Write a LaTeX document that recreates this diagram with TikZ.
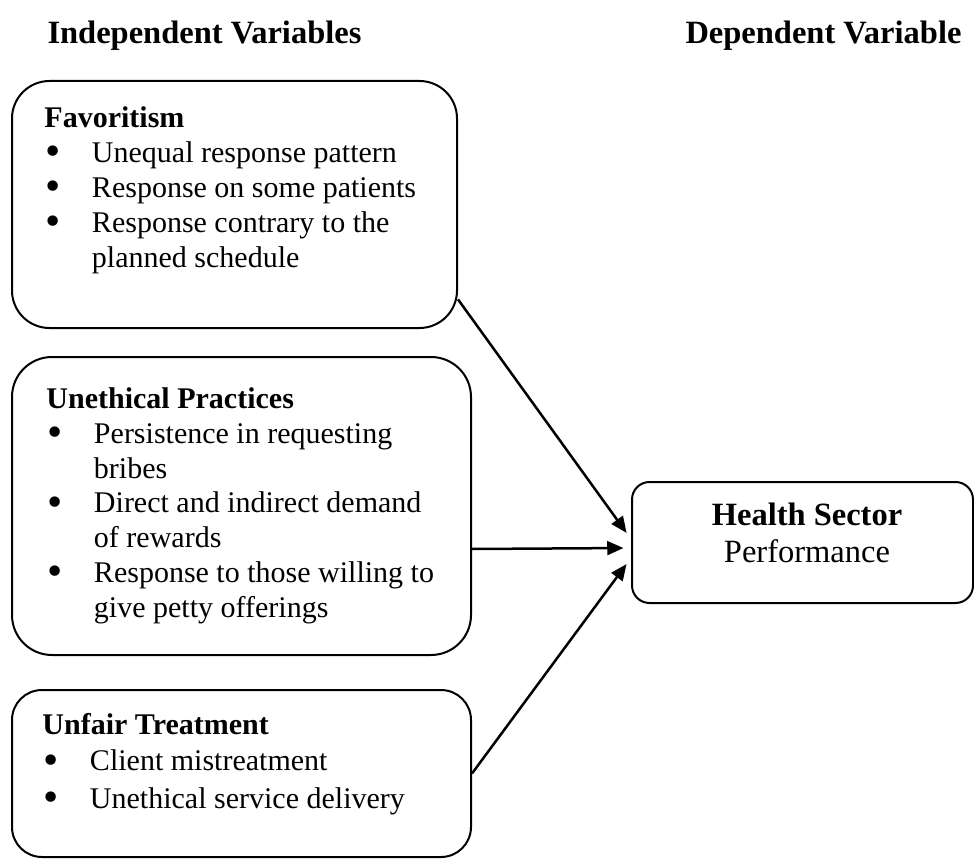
\documentclass[tikz,border=0pt]{standalone}
\usepackage{fontspec}
\usepackage{graphicx}
\setmainfont{Liberation Serif}
\usetikzlibrary{
  arrows.meta,
  positioning,
  fit,
  calc
}
% bullet and the indent for a wrapped item line
\newcommand{\itm}{\makebox[19pt][l]{\hspace{0.5pt}%
  \raisebox{-1.3pt}[0pt][0pt]{\scalebox{1.45}{\textbullet}}}}
\newcommand{\cnt}{\makebox[19pt]{}}

\begin{document}
\begin{tikzpicture}[
  x=0.4pt, y=-0.4pt,
  box/.style ={draw,line width=0.8pt,inner sep=0pt},
  txt/.style ={anchor=base west,align=left,inner sep=0pt,
               font=\fontsize{12}{13.9}\selectfont},
  head/.style={anchor=base west,inner sep=0pt,
               font=\fontsize{13}{15}\selectfont\bfseries},
  arr/.style ={-{Triangle[length=6.5pt,width=5.5pt]},line width=1pt,
               shorten >=3pt},
]
\useasboundingbox (0,0) rectangle (974,859);

\node[head] (indep) at (47,44)  {Independent Variables};
\node[head] (dep)   at (685,44) {Dependent Variable};

% the three groups of independent variables
\node[box,rounded corners=15pt,fit={(12,81) (457,328)}]  (fav)  {};
\node[box,rounded corners=16pt,fit={(12,357) (471,655)}] (unet) {};
\node[box,rounded corners=12pt,fit={(12,690) (471,857)}] (unf)  {};

% text blocks sit on the baseline of their last line
\node[txt] (favtxt) at (44,267)
  {\textbf{Favoritism}\\
   \itm Unequal response pattern\\
   \itm Response on some patients\\
   \itm Response contrary to the\\
   \cnt planned schedule};
\node[txt] (unettxt) at (46,617)
  {\textbf{Unethical Practices}\\
   \itm Persistence in requesting\\
   \cnt bribes\\
   \itm Direct and indirect demand\\
   \cnt of rewards\\
   \itm Response to those willing to\\
   \cnt give petty offerings};
\node[txt] (unftxt) at (42,808)
  {\textbf{Unfair Treatment}\\[0.5pt]
   \itm Client mistreatment\\[1pt]
   \itm Unethical service delivery};

% dependent variable
\node[box,rounded corners=7pt,fit={(632,482) (973,603)}] (perf) {};
\node[anchor=base,align=center,inner sep=0pt,
      font=\fontsize{13}{14.8}\selectfont] (perftxt) at (807,562)
  {\textbf{Health Sector}\\Performance};

\draw[arr] (fav.-23) -- ([yshift=1.4pt]perf.west);
\draw[arr] ([yshift=-17.2pt]unet.east) -- ([yshift=-2.2pt]perf.west);
\draw[arr] (unf.east) -- ([yshift=-6.2pt]perf.west);
\end{tikzpicture}
\end{document}
